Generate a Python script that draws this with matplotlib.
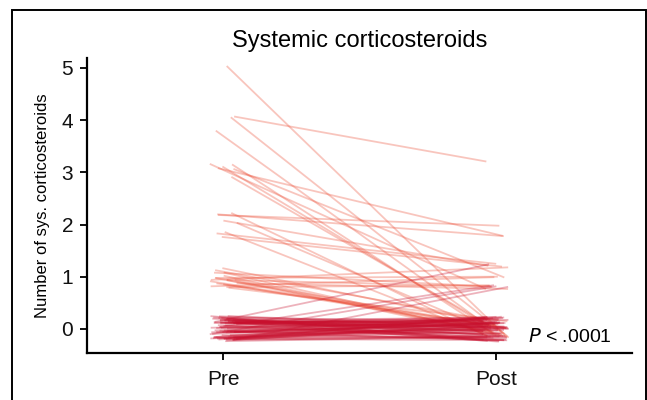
import numpy as np
import matplotlib
matplotlib.use("Agg")
import matplotlib.pyplot as plt
from matplotlib.patches import Rectangle

# paired values per patient (pre, post)
pre = ([5] + [4] * 3 + [3] * 6 + [2] * 8 + [1] * 18 + [0] * 75)
post = ([0] +
        [3, 0, 0] +
        [2, 1, 1, 0, 0, 0] +
        [2, 2, 1, 1, 1, 0, 0, 0] +
        [1] * 7 + [0] * 11 +
        [1] * 4 + [0] * 71)
labels = ["Pre", "Post"]
title = "Systemic corticosteroids"
ylab = "Number of sys. corticosteroids"
ptext = "$\\it{P}$ < .0001"

pre = np.array(pre, dtype=float)
post = np.array(post, dtype=float)
n = len(pre)

# display jitter only
rng = np.random.default_rng(7)
jx0 = rng.uniform(-0.05, 0.05, n)
jx1 = rng.uniform(-0.05, 0.05, n)
jy0 = rng.uniform(-0.25, 0.25, n)
jy1 = rng.uniform(-0.25, 0.25, n)

plt.rcParams['font.family'] = ['Liberation Sans', 'DejaVu Sans']

fig = plt.figure(figsize=(6.47, 4.0), dpi=100)
ax = fig.add_axes([0.1345, 0.1175, 0.8425, 0.7375])

for i in range(n):
    c = '#c8102e' if pre[i] == 0 else '#ec4c34'
    ax.plot([0 + jx0[i], 1 + jx1[i]], [pre[i] + jy0[i], post[i] + jy1[i]],
            color=c, alpha=0.32, lw=1.3, solid_capstyle='butt')

ax.set_xlim(-0.5, 1.5)
ax.set_ylim(-0.46, 5.19)
ax.set_xticks([0, 1])
ax.set_xticklabels(labels)
ax.set_yticks(range(6))
for s in ['top', 'right']:
    ax.spines[s].set_visible(False)
for s in ['left', 'bottom']:
    ax.spines[s].set_linewidth(1.6)
ax.tick_params(axis='both', labelsize=15, width=1.4, length=5, pad=7, colors='#111111')
ax.tick_params(axis='y', pad=5)

ax.set_title(title, fontsize=17, pad=8)
ax.set_ylabel(ylab, fontsize=12, labelpad=8)
ax.text(0.962, 0.025, ptext, transform=ax.transAxes, ha='right', va='bottom', fontsize=14)

# frame around the figure
fig.add_artist(Rectangle((12 / 647, -0.05), (646 - 12) / 647, 1.05 - 10 / 400,
                         transform=fig.transFigure, fill=False, lw=1.4, ec='black'))

fig.savefig("out.png", dpi=100)
